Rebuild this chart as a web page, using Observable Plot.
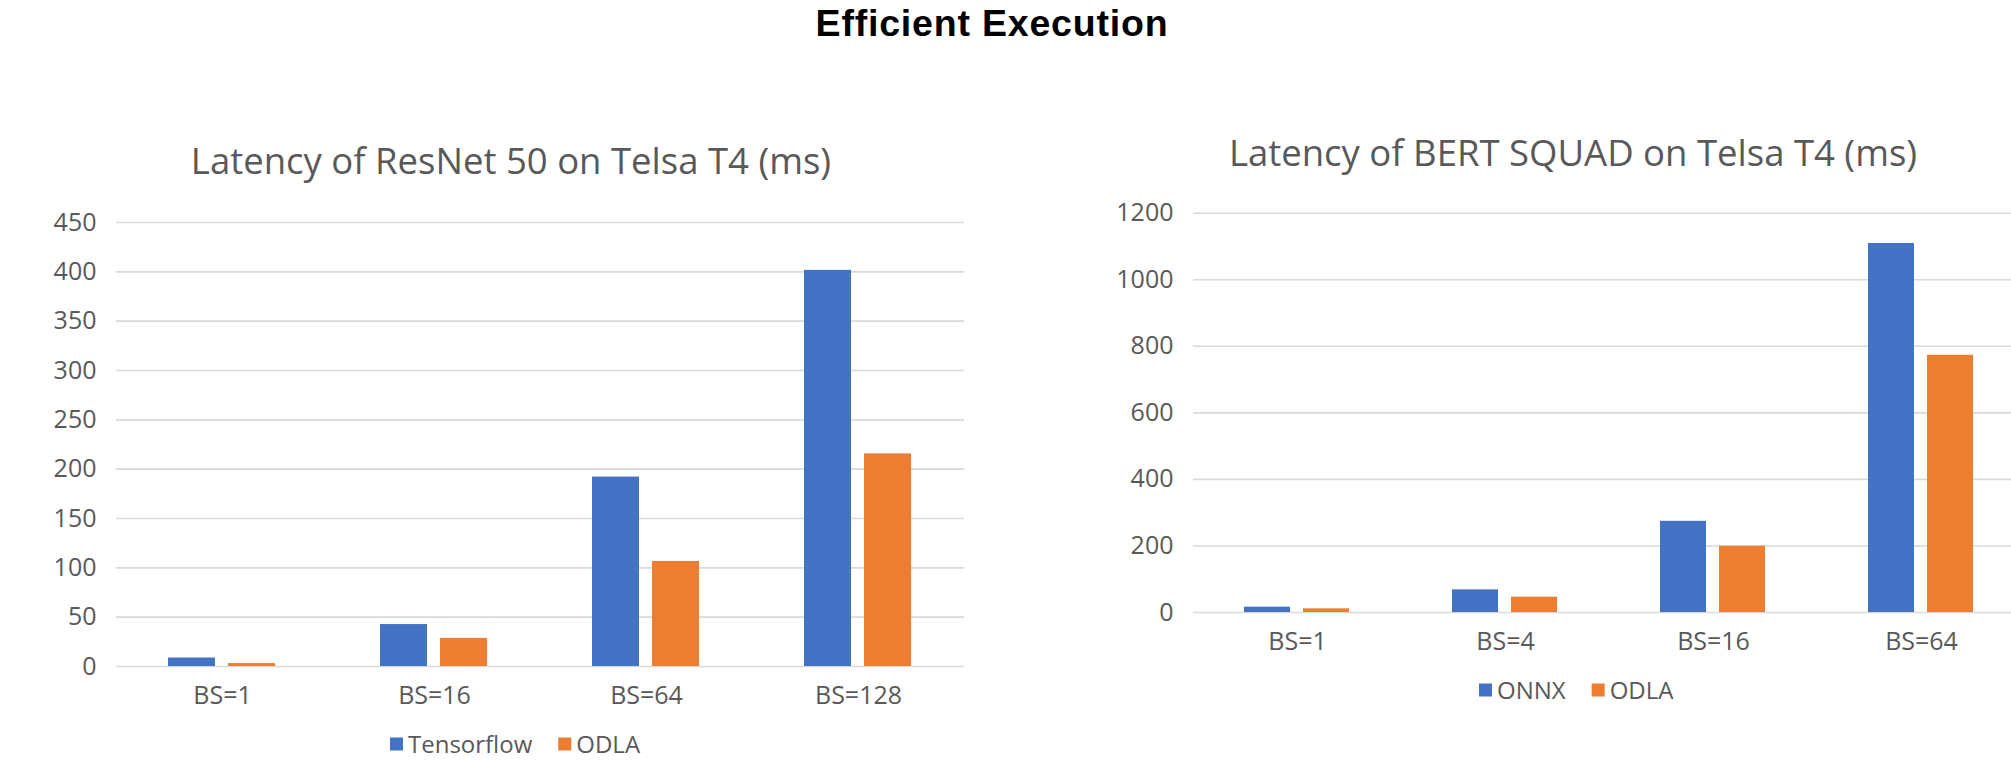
<!DOCTYPE html>
<html>
<head>
<meta charset="utf-8">
<script src="https://cdn.jsdelivr.net/npm/d3@7"></script>
<script src="https://cdn.jsdelivr.net/npm/@observablehq/plot@0.6"></script>
<style>
  html, body { margin: 0; padding: 0; background: #fff; overflow: hidden; }
  #wrap { position: relative; width: 2011px; height: 767px; overflow: hidden; background: #fff; }
  .chart { position: absolute; }
  #overlay { position: absolute; left: 0; top: 0; }
</style>
</head>
<body>
<div id="wrap"></div>
<script>
// ---------- data ----------
const mainTitle = "Efficient Execution";

const resnetTitle = "Latency of ResNet 50 on Telsa T4 (ms)";
const resnetCategories = ["BS=1", "BS=16", "BS=64", "BS=128"];
const resnetSeries = ["Tensorflow", "ODLA"];
const resnetTensorflow = [8.6, 42.5, 192, 401.5];
const resnetODLA = [3, 28.5, 106.5, 215.5];
const resnetTicks = [0, 50, 100, 150, 200, 250, 300, 350, 400, 450];

const bertTitle = "Latency of BERT SQUAD on Telsa T4 (ms)";
const bertCategories = ["BS=1", "BS=4", "BS=16", "BS=64"];
const bertSeries = ["ONNX", "ODLA"];
const bertONNX = [16, 68, 274, 1109];
const bertODLA = [11, 46, 199, 773];
const bertTicks = [0, 200, 400, 600, 800, 1000, 1200];

const seriesColors = ["#4472C4", "#ED7D31"];

// ---------- helpers ----------
const FONT = "'Open Sans', 'Noto Sans', sans-serif";
const TEXT_COLOR = "#595959";
const wrap = document.getElementById("wrap");

function makeChart({cats, series, values, ticks, width, height, marginLeft, marginRight, marginTop, marginBottom}) {
  const rows = [];
  cats.forEach((c, i) => series.forEach((s, j) => rows.push({cat: c, series: s, value: values[j][i]})));
  return Plot.plot({
    width, height, marginLeft, marginRight, marginTop, marginBottom,
    style: {fontFamily: FONT, fontSize: "25px", color: TEXT_COLOR, background: "transparent", overflow: "visible"},
    fx: {domain: cats, padding: 0, label: null, tickSize: 0, tickPadding: 20},
    x: {domain: series, paddingInner: 0.215, paddingOuter: 0.861, axis: null},
    y: {domain: [0, ticks[ticks.length - 1]], ticks: ticks, tickFormat: d3.format("d"), tickSize: 0, tickPadding: 20, label: null},
    color: {domain: series, range: seriesColors},
    marks: [
      Plot.ruleY(ticks, {stroke: "#d9d9d9", strokeWidth: 1.6}),
      Plot.barY(rows, {fx: "cat", x: "series", y: "value", fill: "series"})
    ]
  });
}

function place(el, left, top) {
  el.classList.add("chart");
  el.style.left = left + "px";
  el.style.top = top + "px";
  wrap.appendChild(el);
}

// ---------- charts ----------
const left = makeChart({
  cats: resnetCategories, series: resnetSeries, values: [resnetTensorflow, resnetODLA], ticks: resnetTicks,
  width: 980, height: 516, marginLeft: 116, marginRight: 16, marginTop: 22, marginBottom: 50
});
place(left, 0, 200);

const right = makeChart({
  cats: bertCategories, series: bertSeries, values: [bertONNX, bertODLA], ticks: bertTicks,
  width: 1030, height: 472, marginLeft: 192, marginRight: 4, marginTop: 22.7, marginBottom: 50
});
place(right, 1000, 190);

// ---------- titles and legends ----------
const svg = d3.select(wrap).append("svg").attr("id", "overlay")
  .attr("width", 2011).attr("height", 767)
  .style("font-family", FONT);

svg.append("text").text(mainTitle)
  .attr("x", 992).attr("y", 35.5).attr("text-anchor", "middle")
  .style("font-family", "'Liberation Sans', Arial, sans-serif")
  .style("letter-spacing", "0.8px")
  .attr("font-weight", 700).attr("font-size", 37.5).attr("fill", "#000");

svg.append("text").text(resnetTitle)
  .attr("x", 511).attr("y", 174).attr("text-anchor", "middle")
  .attr("font-size", 36.5).attr("fill", TEXT_COLOR);

svg.append("text").text(bertTitle)
  .attr("x", 1573).attr("y", 166).attr("text-anchor", "middle")
  .attr("font-size", 36.5).attr("fill", TEXT_COLOR);

function legend(series, startX, centerY) {
  let x = startX;
  series.forEach((s, i) => {
    svg.append("rect").attr("x", x).attr("y", centerY - 6.5).attr("width", 13).attr("height", 13)
      .attr("fill", seriesColors[i]);
    const t = svg.append("text").text(s).attr("x", x + 18).attr("y", centerY + 9)
      .attr("font-size", 24).attr("fill", TEXT_COLOR);
    x += 18 + t.node().getComputedTextLength() + 26;
  });
}
legend(resnetSeries, 390, 744);
legend(bertSeries, 1479, 690);
</script>
</body>
</html>
